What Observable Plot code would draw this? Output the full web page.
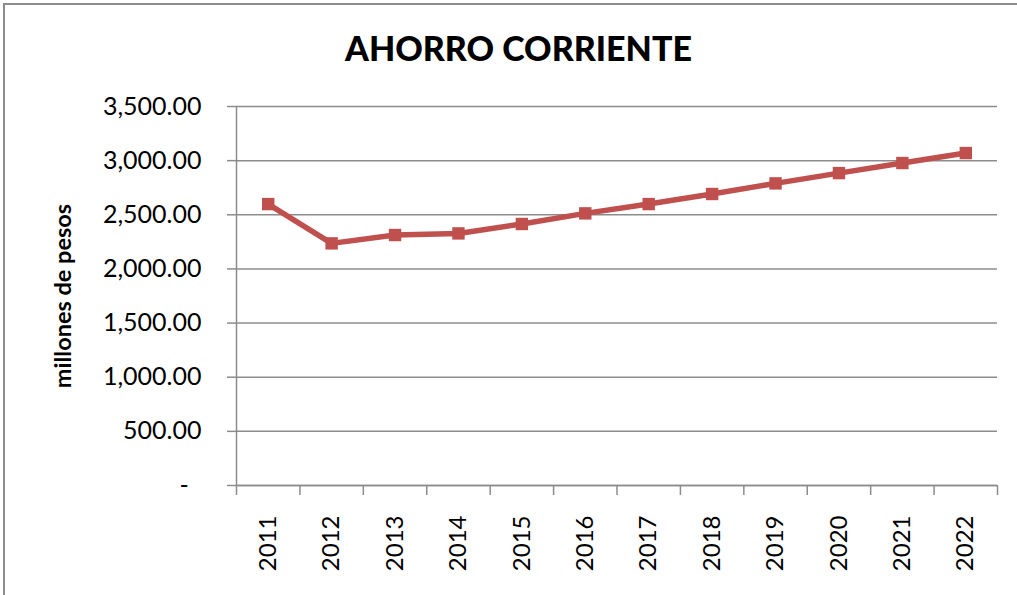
<!DOCTYPE html>
<html>
<head>
<meta charset="utf-8">
<script src="https://cdn.jsdelivr.net/npm/d3@7"></script>
<script src="https://cdn.jsdelivr.net/npm/@observablehq/plot@0.6"></script>
<style>
  html, body { margin: 0; padding: 0; background: #fff; }
  #wrap { position: relative; width: 1017px; height: 595px; overflow: hidden; background: #fff; font-family: Lato, "Noto Sans", sans-serif; }
  #frame { position: absolute; left: 3px; top: 3px; width: 1100px; height: 700px; border: 2px solid #8c8c8c; box-sizing: border-box; }
  #title { position: absolute; left: 10px; top: 31px; width: 1017px; text-align: center; font-size: 34px; line-height: 34px; font-weight: 900; color: #000; }
  #ylabel { position: absolute; left: 62px; top: 296px; transform: translate(-50%, -50%) rotate(-90deg); white-space: nowrap; font-size: 23.5px; font-weight: 700; color: #000; }
  #chart { position: absolute; left: 0; top: 90px; }
</style>
</head>
<body>
<div id="wrap">
  <div id="frame"></div>
  <div id="title">AHORRO CORRIENTE</div>
  <div id="ylabel">millones de pesos</div>
  <div id="chart"></div>
</div>
<script>
const years = [2011, 2012, 2013, 2014, 2015, 2016, 2017, 2018, 2019, 2020, 2021, 2022];
const values = [2599, 2236, 2313, 2328, 2415, 2513, 2599, 2692, 2790, 2885, 2978, 3070];
const yTicks = [0, 500, 1000, 1500, 2000, 2500, 3000, 3500];

const data = years.map((year, i) => ({year, value: values[i]}));
const boundaries = years.map(y => y - 0.5).concat([years[years.length - 1] + 0.5]);
const fmt = d => d === 0 ? "-\u00a0\u00a0" : d3.format(",.2f")(d);
const grey = "#8c8c8c";

const chart = Plot.plot({
  width: 1017,
  height: 505,
  marginLeft: 236,
  marginRight: 20,
  marginTop: 16,
  marginBottom: 110,
  x: {type: "linear", domain: [boundaries[0], boundaries[boundaries.length - 1]]},
  y: {domain: [0, 3500]},
  style: {fontFamily: "Lato, 'Noto Sans', sans-serif", fontSize: "24px", color: "#000", background: "transparent"},
  marks: [
    Plot.gridY(yTicks, {stroke: grey, strokeOpacity: 1, strokeWidth: 1.5}),
    Plot.ruleX([boundaries[0]], {stroke: grey, strokeWidth: 1.5}),
    Plot.ruleY([0], {stroke: grey, strokeWidth: 1.5}),
    Plot.axisY(yTicks, {tickSize: 9, tickPadding: 26, tickFormat: fmt, stroke: grey, strokeWidth: 1.5, fill: "#000", fontSize: 25, label: null}),
    Plot.axisX(boundaries, {tickSize: 10, tickFormat: () => "", stroke: grey, strokeWidth: 1.5, label: null}),
    Plot.axisX(years, {tickSize: 0, tickPadding: 30, tickRotate: -90, tickFormat: d => String(d), fill: "#000", fontSize: 24, label: null}),
    Plot.line(data, {x: "year", y: "value", stroke: "#c0504d", strokeWidth: 5.5}),
    Plot.dot(data, {x: "year", y: "value", symbol: "square", r: 7, fill: "#c0504d", stroke: "none"})
  ]
});
document.getElementById("chart").appendChild(chart);
</script>
</body>
</html>
